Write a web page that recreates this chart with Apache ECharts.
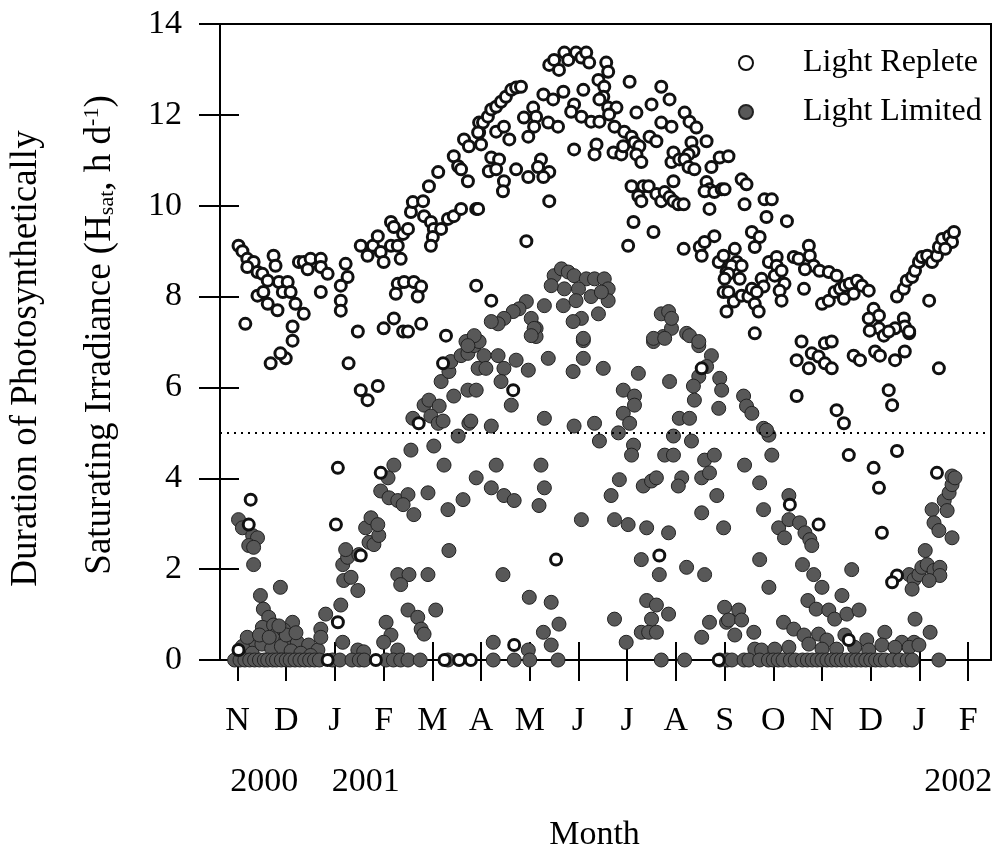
<!DOCTYPE html>
<html>
<head>
<meta charset="utf-8">
<script src="https://cdn.jsdelivr.net/npm/echarts@6/dist/echarts.min.js"></script>
<style>
html,body{margin:0;padding:0;background:#fff;}
#chart{width:1000px;height:857px;}
</style>
</head>
<body>
<div id="chart"></div>
<script>
// ---- Data (x = months since 1 Nov 2000, y = hours per day) ----
const monthLabels = ['N','D','J','F','M','A','M','J','J','A','S','O','N','D','J','F'];
const yearLabels = ['2000','2001','2002'];
const yearPositions = [0.55, 2.63, 14.8];
const yTickValues = [0, 2, 4, 6, 8, 10, 12, 14];
const thresholdValue = 5;
const seriesNames = ['Light Replete', 'Light Limited'];

const repleteData = [
[0.02,9.12],[0.1,9.0],[0.2,8.83],[0.33,8.76],[0.2,8.65],[0.41,8.54],[0.51,8.5],[0.74,8.9],[0.78,8.68],[0.62,8.35],[0.85,8.32],[1.03,8.32],[0.41,8.02],[0.53,8.1],[0.62,7.84],[0.82,7.7],[0.93,8.1],[1.09,8.1],[1.19,7.84],[1.36,7.62],[0.16,7.4],[1.13,7.34],[1.13,7.03],[1.26,8.76],[1.36,8.76],[1.5,8.83],[1.71,8.83],[1.44,8.6],[1.71,8.65],[1.85,8.5],[1.71,8.1],[2.22,8.72],[2.26,8.43],[2.12,8.24],[2.12,7.91],[2.12,7.69],[2.47,7.23],[2.53,9.12],[2.67,8.9],[2.78,9.12],[2.88,9.33],[2.94,8.98],[3.0,8.76],[3.15,9.64],[3.21,9.53],[3.15,9.12],[3.29,9.12],[3.35,8.83],[3.4,9.38],[3.5,9.49],[3.56,9.86],[3.6,10.08],[3.81,10.1],[3.93,10.43],[4.12,10.74],[3.83,9.77],[3.97,9.64],[4.03,9.49],[4.01,9.31],[3.97,9.12],[4.18,9.49],[4.32,9.71],[4.44,9.77],[4.59,9.93],[4.9,9.93],[4.44,11.09],[4.53,10.87],[4.59,10.8],[4.73,10.54],[4.65,11.46],[4.75,11.31],[4.96,11.61],[4.96,11.83],[4.9,8.24],[3.29,8.28],[3.42,8.32],[3.62,8.32],[3.77,8.22],[3.7,8.0],[3.25,8.06],[3.21,7.52],[3.4,7.23],[3.5,7.23],[3.77,7.4],[3.0,7.3],[4.28,7.14],
[0.68,6.53],[0.99,6.64],[0.88,6.75],[2.28,6.53],[2.53,5.94],[2.67,5.72],[2.88,6.03],[4.22,6.53],[3.72,5.21],[2.06,4.23],[0.27,3.53],[0.23,2.98],[2.02,2.98],[2.53,2.3],[2.94,4.12],[0.02,0.22],[2.06,0.83],[1.85,0],[2.84,0],[4.25,0],[4.55,0],[4.79,0],
[5.04,11.83],[4.94,11.61],[5.0,11.35],[5.14,11.96],[5.21,12.12],[5.31,12.18],[5.41,12.29],[5.51,12.4],[5.62,12.55],[5.72,12.6],[5.82,12.62],[5.31,11.63],[5.47,11.74],[5.58,11.46],[5.21,11.06],[5.37,11.02],[5.16,10.76],[5.31,10.8],[5.47,10.54],[5.45,10.32],[5.72,10.8],[5.97,10.63],[6.23,11.02],[6.17,10.85],[6.4,10.74],[6.28,10.63],[4.94,9.93],[6.4,10.1],[5.93,9.22],[5.88,11.94],[6.07,12.16],[6.13,11.96],[6.09,11.74],[5.97,11.52],[6.38,11.83],[6.58,11.74],[6.28,12.45],[6.48,12.34],[6.69,12.51],[6.4,13.1],[6.5,13.21],[6.6,12.99],[6.71,13.37],[6.79,13.21],[6.95,13.37],[7.06,13.26],[7.16,13.37],[7.22,13.15],[6.91,12.23],[7.1,12.55],[6.85,12.07],[7.06,11.96],[7.26,11.85],[7.43,11.85],[7.37,11.35],[7.33,11.13],[6.91,11.24],[7.41,12.77],[7.53,12.62],[7.57,13.15],[7.61,12.95],[7.51,12.4],[7.43,12.34],[7.61,12.16],[7.78,12.16],[7.63,12.01],[7.74,11.74],[7.72,11.17],[7.88,11.13],[7.92,11.31],[7.94,11.63],[8.05,12.73],[8.19,12.05],[8.09,11.52],[8.15,11.39],[8.25,11.31],[8.19,11.13],[8.29,10.96],[8.33,10.43],[8.09,10.43],[8.13,9.64],[8.02,9.12],[8.23,10.21],[8.29,10.1],[8.44,10.43],[8.46,11.52],[8.6,11.42],[8.5,12.23],[8.7,12.62],[8.87,12.34],[8.54,9.42],[8.6,10.26],[8.7,10.1],[8.77,10.3],[8.87,10.19],[8.95,10.1],[9.05,10.03],[9.16,10.03],[8.95,10.54],[8.91,10.96],[8.95,11.17],[9.07,11.02],[8.7,11.83],[8.91,11.74],[9.18,12.05],[9.28,11.85],[9.42,11.72],[9.32,11.39],[9.36,11.2],[9.26,11.13],[9.18,11.02],[9.26,10.85],[9.63,11.42],[9.38,10.8],[9.73,10.85],[9.9,11.06],[9.63,10.52],[9.69,10.36],[9.59,10.32],[9.79,10.3],[9.94,10.36],[9.69,9.93],[9.16,9.05],[9.49,9.09],[9.59,9.2],[9.53,8.9],[9.79,9.33],[9.88,8.76],[9.98,8.9],[10.04,8.54],[9.98,8.1],[10.04,7.67],[5.21,7.91],
[10.08,11.09],[10.0,10.36],[10.35,10.58],[10.45,10.47],[10.41,10.03],[10.82,10.14],[10.97,10.14],[10.86,9.75],[11.28,9.66],[10.56,9.42],[10.72,9.31],[10.62,9.09],[10.21,9.05],[10.25,8.76],[10.14,8.68],[10.08,8.5],[10.0,8.39],[10.35,8.68],[10.31,8.39],[10.08,8.1],[10.19,7.89],[10.35,8.02],[10.49,8.0],[10.56,8.17],[10.76,8.39],[10.91,8.76],[11.07,8.87],[11.07,8.68],[11.03,8.46],[11.17,8.57],[11.42,8.87],[11.52,8.83],[11.73,9.12],[11.75,8.9],[11.83,8.68],[11.65,8.6],[11.63,8.17],[11.23,8.28],[11.13,8.13],[11.17,7.91],[10.8,8.22],[10.66,8.1],[10.62,7.84],[10.7,7.67],[11.95,8.57],[12.14,8.54],[12.3,8.46],[12.0,7.84],[12.14,7.91],[12.26,8.1],[12.37,8.17],[12.47,8.24],[12.57,8.28],[12.72,8.35],[12.82,8.24],[12.96,8.13],[12.65,8.06],[12.45,7.95],[13.06,7.73],[13.17,7.58],[12.96,7.52],[13.17,7.3],[13.27,7.14],[13.68,7.52],[13.7,7.34],[13.79,7.19],[13.5,7.3],[13.54,8.0],[13.68,8.17],[13.74,8.35],[13.85,8.43],[13.91,8.57],[13.99,8.76],[14.05,8.87],[14.16,8.9],[14.26,8.76],[14.36,8.9],[14.4,9.09],[14.47,9.27],[14.61,9.33],[14.67,9.2],[14.71,9.42],[14.53,9.05],[14.2,7.91],
[10.62,7.19],[11.58,7.01],[11.48,6.6],[11.73,6.42],[11.79,6.75],[11.93,6.68],[12.06,6.53],[12.2,6.42],[12.06,6.97],[12.2,7.01],[12.65,6.7],[12.78,6.6],[13.09,6.79],[13.19,6.7],[13.5,6.6],[13.7,6.79],[12.98,7.25],[13.37,7.23],[13.79,7.23],[14.4,6.42],[11.48,5.81],[12.3,5.5],[12.45,5.21],[13.37,5.94],[13.44,5.61],[12.55,4.51],[13.54,4.6],[13.06,4.23],[13.17,3.79],[14.36,4.12],[11.34,3.42],[11.93,2.98],[13.23,2.8],[13.54,1.86],[13.44,1.71],[12.55,0.44],
[5.66,5.94],[6.54,2.21],[5.68,0.33],[8.66,2.3],[9.53,6.42],[9.88,0]
];

const limitedData = [
[0.02,3.09],[0.1,2.91],[0.31,2.74],[0.41,2.69],[0.23,2.52],[0.33,2.48],[0.33,2.1],[0.47,1.42],[0.88,1.6],[0.53,1.12],[0.64,0.94],[0.51,0.72],[0.74,0.77],[0.78,0.55],[1.13,0.83],[0.95,0.66],[0.99,0.44],[1.23,0.39],[1.46,0.33],[1.65,0.22],[0.31,0.28],[0.06,0.11],[1.71,0.68],[1.81,1.01],[1.71,0.5],[2.12,1.21],[2.16,0.39],[2.47,0.22],[2.59,0.18],[2.47,1.53],[2.18,1.75],[2.33,1.82],[2.16,2.1],[2.26,2.26],[2.22,2.43],[2.49,2.32],[2.7,2.59],[2.8,2.54],[2.9,2.74],[2.63,2.91],[2.74,3.13],[2.88,2.98],[2.94,3.72],[3.11,3.57],[3.29,3.51],[3.5,3.64],[3.4,3.42],[3.62,3.2],[3.91,3.68],[3.09,4.01],[3.21,4.29],[3.56,4.62],[4.03,4.71],[4.24,4.29],[4.32,3.31],[4.63,3.53],[4.9,4.01],[4.34,2.41],[3.29,1.88],[3.52,1.88],[3.91,1.88],[3.35,1.66],[3.5,1.1],[3.7,0.94],[3.77,0.68],[3.83,0.57],[4.07,1.1],[3.05,0.83],[3.15,0.55],[3.0,0.39],[3.29,0.22],[3.6,5.32],[3.83,5.61],[3.93,5.72],[4.14,5.59],[3.97,5.37],[4.12,5.21],[4.22,5.26],[4.53,4.93],[4.18,6.13],[4.34,6.35],[4.38,6.57],[4.44,5.81],[4.59,6.7],[4.73,6.75],[4.69,7.01],[4.86,6.92],[4.73,5.94],[4.9,5.94],[4.75,5.21],[4.94,6.42],
[0.1,0.3],[0.3,0.15],[0.5,0.35],[0.7,0.25],[0.9,0.3],[1.1,0.2],[1.3,0.15],[1.5,0.1],[0.2,0.5],[0.45,0.55],[0.65,0.5],[1.0,0.55],[0.85,0.75],[1.2,0.6],
[4.96,7.01],[5.06,6.7],[5.35,6.7],[5.1,6.42],[5.47,6.42],[5.72,6.6],[5.97,6.38],[6.38,6.64],[5.41,6.13],[5.62,5.61],[5.21,5.15],[4.79,5.26],[6.3,5.32],[6.13,7.3],[6.13,7.12],[7.1,7.03],[7.1,6.64],[6.89,6.35],[7.51,6.42],[6.91,5.15],[7.33,5.21],[7.43,4.82],[8.23,6.31],[7.92,5.94],[8.15,5.81],[8.15,5.61],[7.92,5.43],[8.05,5.21],[7.82,5.0],[8.13,4.73],[8.09,4.51],[8.54,7.01],[8.74,7.12],[8.91,7.3],[9.22,7.19],[9.47,6.92],[9.73,6.7],[9.63,6.46],[9.47,6.24],[9.36,6.03],[9.38,5.72],[9.9,6.2],[9.94,5.94],[9.88,5.54],[8.87,6.13],[9.07,5.32],[9.28,5.32],[8.95,4.93],[9.32,4.82],[8.77,4.51],[8.95,4.51],[9.59,4.4],[9.79,4.51],[9.53,4.01],[9.69,4.12],[9.84,3.62],[9.12,4.01],[9.05,3.83],[8.33,3.83],[8.5,3.94],[8.6,4.01],[7.84,3.97],[7.67,3.62],[9.53,3.24],[9.98,2.91],[7.74,3.09],[8.02,2.98],[8.4,2.91],[8.85,2.8],[7.06,3.09],[5.31,4.29],[5.21,3.79],[5.47,3.62],[5.68,3.51],[6.23,4.29],[6.3,3.79],[6.19,3.4],[5.45,1.88],[8.29,2.21],[8.66,1.88],[9.22,2.04],[9.59,1.88],[5.99,1.38],[6.44,1.27],[6.6,0.79],[6.28,0.61],[6.44,0.33],[5.97,0.22],[5.25,0.39],[7.74,0.9],[7.98,0.39],[8.4,1.31],[8.6,1.21],[8.85,1.01],[8.5,0.9],[8.29,0.61],[8.44,0.61],[8.6,0.61],[9.53,0.5],[9.69,0.83],[10.04,0.83],
[6.5,8.46],[6.65,8.61],[6.79,8.54],[6.91,8.46],[7.16,8.39],[7.33,8.39],[7.53,8.39],[7.61,8.17],[7.61,7.91],[7.0,8.17],[6.71,8.17],[6.44,8.24],[6.69,7.8],[6.95,7.91],[7.26,8.0],[7.47,8.1],[7.41,7.62],[7.06,7.52],[6.89,7.45],[7.1,7.08],[6.3,7.8],[5.93,7.89],[5.78,7.73],[5.66,7.67],[5.47,7.52],[5.35,7.4],[5.21,7.45],[6.03,7.52],[6.09,7.3],[6.03,7.14],[8.7,7.62],[8.85,7.67],[8.91,7.52],[8.54,7.08],[8.77,7.08],[9.28,7.14],[9.47,7.01],[4.86,7.14],[4.73,6.92],
[10.39,5.81],[10.45,5.59],[10.56,5.43],[10.8,5.1],[10.91,4.95],[10.86,5.06],[10.97,4.51],[10.41,4.29],[10.72,3.9],[11.32,3.62],[10.8,3.31],[11.11,2.91],[11.23,2.69],[11.32,3.09],[11.54,3.02],[11.65,2.8],[11.75,2.65],[11.79,2.52],[10.72,2.21],[11.6,2.1],[11.83,1.88],[12.0,1.6],[12.61,1.99],[10.91,1.6],[12.41,1.42],[11.71,1.31],[11.88,1.12],[12.14,1.1],[12.26,0.9],[12.51,1.01],[12.76,1.1],[11.21,0.83],[11.42,0.68],[11.63,0.55],[11.93,0.57],[12.1,0.44],[12.47,0.55],[12.92,0.44],[13.29,0.61],[13.64,0.39],[13.89,0.39],[14.22,0.61],[13.91,0.9],[14.12,2.41],[13.79,1.88],[13.89,1.77],[13.99,1.88],[14.05,2.04],[14.16,2.1],[14.3,1.97],[14.42,2.04],[14.42,1.86],[13.85,1.56],[14.2,1.75],[14.26,3.31],[14.3,3.02],[14.4,2.85],[14.67,2.69],[14.51,3.51],[14.57,3.29],[14.61,3.68],[14.67,3.86],[14.67,4.05],[14.73,4.01],[10.0,1.16],[10.29,1.1],[10.08,0.88],[10.35,0.88],[10.6,0.61],[10.21,0.55],[10.62,0.24],[10.76,0.22],[11.03,0.24],[11.32,0.28],[11.73,0.35],[12.0,0.24],[12.3,0.24],[12.67,0.28],[12.96,0.22],[13.23,0.33],[13.5,0.28],[13.79,0.28],[13.99,0.33],
[-0.06,0],[0.05,0],[0.15,0],[0.25,0],[0.35,0],[0.45,0],[0.55,0],[0.62,0],[0.72,0],[0.8,0],[0.9,0],[1.0,0],[1.08,0],[1.18,0],[1.28,0],[1.38,0],[1.48,0],[1.58,0],[1.68,0],[1.95,0],[2.1,0],[2.35,0],[2.5,0],[2.6,0],[3.05,0],[3.2,0],[3.35,0],[3.5,0],[3.75,0],[4.32,0],[5.25,0],[5.68,0],[6.0,0],[6.58,0],[8.7,0],[9.18,0],[9.9,0],[10.05,0],[10.15,0],[10.4,0],[10.5,0],[10.72,0],[10.9,0],[11.0,0],[11.1,0],[11.2,0],[11.35,0],[11.45,0],[11.6,0],[11.7,0],[11.8,0],[11.9,0],[12.0,0],[12.1,0],[12.2,0],[12.3,0],[12.4,0],[12.5,0],[12.6,0],[12.7,0],[12.8,0],[12.9,0],[13.0,0],[13.1,0],[13.2,0],[13.3,0],[13.45,0],[13.6,0],[13.75,0],[13.85,0],[14.4,0]
];

// ---- Chart ----
const FONT = "'Liberation Serif', 'Times New Roman', serif";
const monthTicks = monthLabels.map((_, i) => i);
const X_MIN = -0.36, X_MAX = 15.47;

const chart = echarts.init(document.getElementById('chart'), null, {renderer: 'canvas'});
const tickLine = {color: '#000', width: 2};

chart.setOption({
  animation: false,
  backgroundColor: '#fff',
  grid: {left: 219, right: 9, top: 24, bottom: 194, show: true, borderColor: '#000', borderWidth: 2, backgroundColor: 'transparent'},
  legend: {
    orient: 'vertical', left: 738, top: 47, padding: 0, itemGap: 17,
    itemWidth: 14, itemHeight: 14, data: seriesNames,
    textStyle: {fontFamily: FONT, fontSize: 32, color: '#000', padding: [0, 0, 0, 45]}
  },
  xAxis: [
    {
      type: 'value', position: 'bottom', min: X_MIN, max: X_MAX,
      axisLine: {show: true, onZero: false, lineStyle: tickLine},
      axisTick: {show: true, inside: false, length: 21, customValues: monthTicks, lineStyle: tickLine},
      axisLabel: {customValues: monthTicks, formatter: v => monthLabels[Math.round(v)], margin: 44,
                  fontFamily: FONT, fontSize: 34, color: '#000'},
      splitLine: {show: false},
      name: 'Month', nameLocation: 'middle', nameGap: 158,
      nameTextStyle: {fontFamily: FONT, fontSize: 34, color: '#000', padding: [0, 22, 0, 0]}
    },
    {
      type: 'value', position: 'bottom', min: X_MIN, max: X_MAX,
      axisLine: {show: false, onZero: false},
      axisTick: {show: true, inside: true, length: 18, customValues: monthTicks, lineStyle: tickLine},
      axisLabel: {customValues: yearPositions,
                  formatter: v => { let best = 0; yearPositions.forEach((p, i) => { if (Math.abs(p - v) < Math.abs(yearPositions[best] - v)) best = i; }); return yearLabels[best]; },
                  margin: 105, fontFamily: FONT, fontSize: 34, color: '#000'},
      splitLine: {show: false}
    }
  ],
  yAxis: [
    {
      type: 'value', position: 'left', min: 0, max: 14, interval: 2,
      axisLine: {show: true, onZero: false, lineStyle: tickLine},
      axisTick: {show: true, inside: false, length: 21, lineStyle: tickLine},
      axisLabel: {margin: 38, fontFamily: FONT, fontSize: 34, color: '#000', customValues: yTickValues},
      splitLine: {show: false},
      name: 'Saturating Irradiance (H{sub|sat}, h d{sup|-1})',
      nameLocation: 'middle', nameRotate: 90, nameGap: 101,
      nameTextStyle: {
        fontFamily: FONT, fontSize: 37, color: '#000', padding: [0, 0, 0, 14],
        rich: {
          sub: {fontFamily: FONT, fontSize: 22, color: '#000', padding: [14, 0, 0, 0]},
          sup: {fontFamily: FONT, fontSize: 22, color: '#000', padding: [0, 0, 16, 0]}
        }
      }
    },
    {
      type: 'value', position: 'left', min: 0, max: 14, interval: 2,
      axisLine: {show: false, onZero: false},
      axisTick: {show: true, inside: true, length: 19, lineStyle: tickLine},
      axisLabel: {show: false},
      splitLine: {show: false},
      name: 'Duration of Photosynthetically',
      nameLocation: 'middle', nameRotate: 90, nameGap: 175,
      nameTextStyle: {fontFamily: FONT, fontSize: 37, color: '#000', padding: [0, 33, 0, 0]}
    }
  ],
  series: [
    {
      name: 'threshold', type: 'scatter', data: [], z: 1, silent: true,
      markLine: {
        silent: true, symbol: ['none', 'none'], label: {show: false},
        lineStyle: {color: '#000', width: 2, type: [2, 5]},
        data: [{yAxis: thresholdValue}]
      }
    },
    {
      name: seriesNames[1], type: 'scatter', z: 3, data: limitedData,
      symbol: 'circle', symbolSize: 14,
      itemStyle: {color: '#585858', borderColor: '#222', borderWidth: 1, opacity: 1}
    },
    {
      name: seriesNames[0], type: 'scatter', z: 4, data: repleteData,
      symbol: 'circle', symbolSize: 11,
      itemStyle: {color: '#fff', borderColor: '#111', borderWidth: 3, opacity: 1}
    }
  ]
});
</script>
</body>
</html>
